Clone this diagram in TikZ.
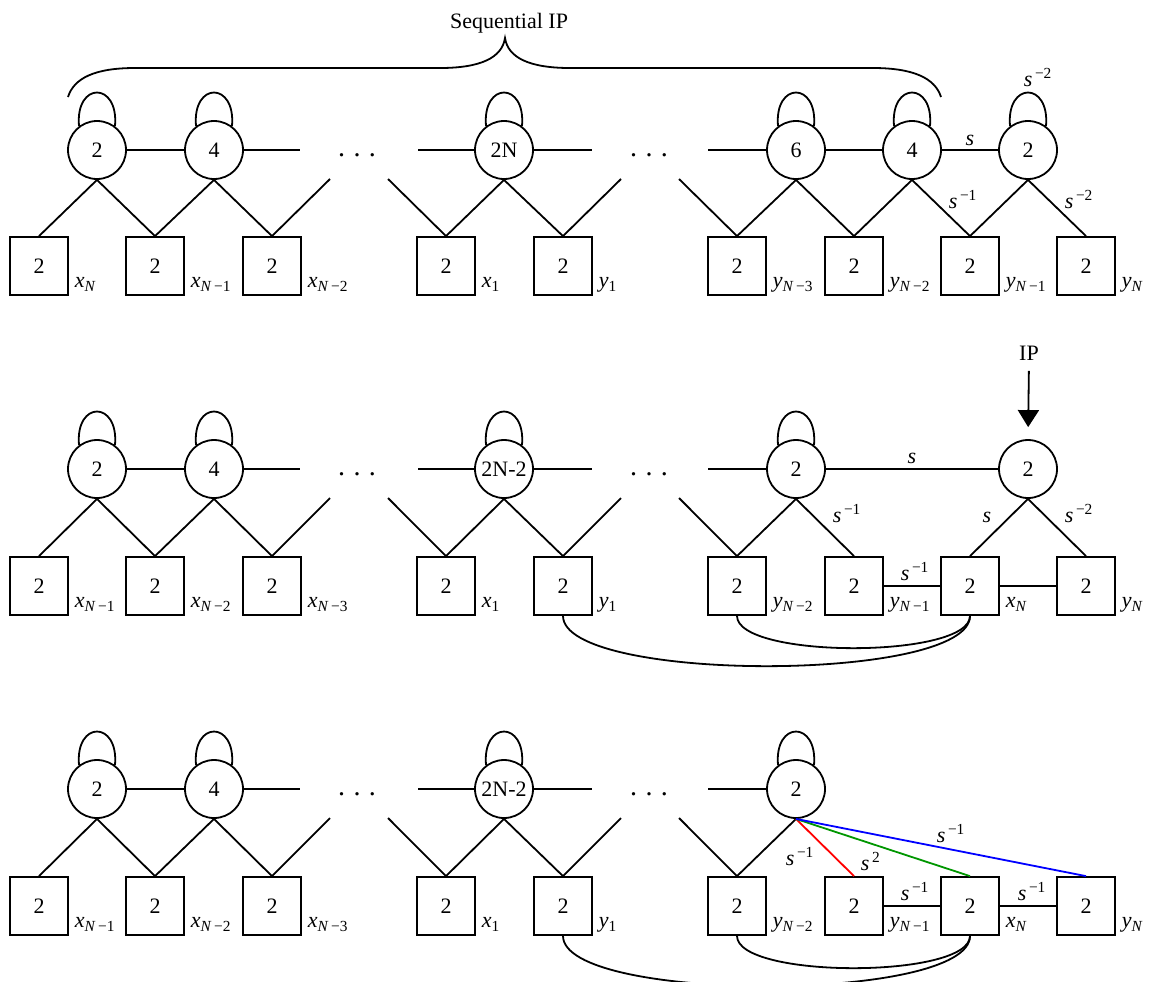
\documentclass[tikz,border=0pt]{standalone}
\usepackage{fontspec}
\setmainfont{Liberation Serif}
\usetikzlibrary{arrows.meta}
\definecolor{eRed}{RGB}{255,0,0}
\definecolor{eGreen}{RGB}{0,150,0}
\definecolor{eBlue}{RGB}{0,0,255}
\newcommand\xv[1]{\textit{x}\textsubscript{#1}}
\newcommand\yv[1]{\textit{y}\textsubscript{#1}}
\newcommand\sv[1]{\textit{s}\textsuperscript{\,#1}}
\newcommand\Nm[1]{\textit{N}\,−#1}
\newcommand\selfloop[1]{\draw (#1.127) .. controls +(95:22.5pt) and +(85:22.5pt) .. (#1.53);}
\begin{document}
\begin{tikzpicture}[x=0.5pt,y=-0.5pt,
  font=\fontsize{11}{13}\selectfont, line width=0.9pt,
  cn/.style={circle,draw,minimum size=29pt,inner sep=0pt},
  bx/.style={rectangle,draw,minimum size=29pt,inner sep=0pt},
  bl/.style={anchor=base west,inner sep=0pt,xshift=2.5pt,yshift=4pt},
  el/.style={anchor=base west,inner sep=0pt},
  ec/.style={anchor=base,inner sep=0pt},
  dts/.style={anchor=base,inner sep=0pt,font=\fontsize{14}{15}\selectfont}]
\useasboundingbox (0,0) rectangle (1149,981);

% ---------- common left part of the three rows ----------
\foreach \r/\cy/\by/\lc/\ld in {1/150/266/2N/6, 2/469/586/2N-2/2, 3/789/906/2N-2/2}{
  \node[cn] (r\r-c1) at (97,\cy) {2};
  \node[cn] (r\r-c2) at (214,\cy) {4};
  \node[cn] (r\r-c3) at (504,\cy) {\lc};
  \node[cn] (r\r-c4) at (796,\cy) {\ld};
  \foreach \x [count=\i] in {39,155,272,446,563,737,854,970,1086}{
    \node[bx] (r\r-b\i) at (\x,\by) {2};
  }
  \coordinate (r\r-s1) at (300,\cy);
  \coordinate (r\r-s2) at (418,\cy);
  \coordinate (r\r-s3) at (592,\cy);
  \coordinate (r\r-s4) at (708,\cy);
  \coordinate (r\r-d1) at (330,\cy+29);
  \coordinate (r\r-d2) at (388,\cy+29);
  \coordinate (r\r-d3) at (621,\cy+29);
  \coordinate (r\r-d4) at (679,\cy+29);
  \node[dts] (r\r-dotsA) at (357,\cy+6) {.\hspace{0.3em}.\hspace{0.3em}.};
  \node[dts] (r\r-dotsB) at (649,\cy+6) {.\hspace{0.3em}.\hspace{0.3em}.};
  \draw (r\r-c1) -- (r\r-c2);
  \draw (r\r-c2.east) -- (r\r-s1);
  \draw (r\r-s2) -- (r\r-c3.west);
  \draw (r\r-c3.east) -- (r\r-s3);
  \draw (r\r-s4) -- (r\r-c4.west);
  \draw (r\r-c1.south) -- (r\r-b1.north);
  \draw (r\r-c1.south) -- (r\r-b2.north);
  \draw (r\r-c2.south) -- (r\r-b2.north);
  \draw (r\r-c2.south) -- (r\r-b3.north);
  \draw (r\r-b3.north) -- (r\r-d1);
  \draw (r\r-d2) -- (r\r-b4.north);
  \draw (r\r-c3.south) -- (r\r-b4.north);
  \draw (r\r-c3.south) -- (r\r-b5.north);
  \draw (r\r-b5.north) -- (r\r-d3);
  \draw (r\r-d4) -- (r\r-b6.north);
  \draw (r\r-c4.south) -- (r\r-b6.north);
  \selfloop{r\r-c1}
  \selfloop{r\r-c2}
  \selfloop{r\r-c3}
  \selfloop{r\r-c4}
}

% ---------- row 1 ----------
\node[cn] (r1-c5) at (912,150) {4};
\node[cn] (r1-c6) at (1028,150) {2};
\selfloop{r1-c5}
\selfloop{r1-c6}
\draw (r1-c4) -- (r1-c5);
\draw (r1-c5) -- (r1-c6);
\draw (r1-c4.south) -- (r1-b7.north);
\draw (r1-c5.south) -- (r1-b7.north);
\draw (r1-c5.south) -- (r1-b8.north);
\draw (r1-c6.south) -- (r1-b8.north);
\draw (r1-c6.south) -- (r1-b9.north);
\node[ec] (r1-ls) at (970,145) {\textit{s}};
\node[el] (r1-l58) at (948,208) {\sv{−1}};
\node[el] (r1-l69) at (1064,208) {\sv{−2}};
\node[el] (r1-lloop) at (1023,86) {\sv{−2}};
\node[bl] (r1-t1) at (r1-b1.south east) {\xv{\textit{N}}};
\node[bl] (r1-t2) at (r1-b2.south east) {\xv{\Nm{1}}};
\node[bl] (r1-t3) at (r1-b3.south east) {\xv{\Nm{2}}};
\node[bl] (r1-t4) at (r1-b4.south east) {\xv{1}};
\node[bl] (r1-t5) at (r1-b5.south east) {\yv{1}};
\node[bl] (r1-t6) at (r1-b6.south east) {\yv{\Nm{3}}};
\node[bl] (r1-t7) at (r1-b7.south east) {\yv{\Nm{2}}};
\node[bl] (r1-t8) at (r1-b8.south east) {\yv{\Nm{1}}};
\node[bl] (r1-t9) at (r1-b9.south east) {\yv{\textit{N}}};

% brace
\node[anchor=base,inner sep=0pt] (seqip) at (509,28) {Sequential IP};
\draw (68,97) .. controls (74,78) and (95,68) .. (135,68) -- (440,68)
      .. controls (480,68) and (502,58) .. (505,38)
      .. controls (508,58) and (530,68) .. (570,68) -- (873,68)
      .. controls (913,68) and (935,78) .. (941,97);

% ---------- row 2 ----------
\node[cn] (r2-c6) at (1028,469) {2};
\draw (r2-c4) -- (r2-c6);
\draw (r2-c4.south) -- (r2-b7.north);
\draw (r2-c6.south) -- (r2-b8.north);
\draw (r2-c6.south) -- (r2-b9.north);
\draw (r2-b7) -- (r2-b8);
\draw (r2-b8) -- (r2-b9);
\draw (r2-b6.south) .. controls +(0,43) and +(0,43) .. (r2-b8.south);
\draw (r2-b5.south) .. controls +(0,67) and +(0,67) .. (r2-b8.south);
\node[ec] (r2-ls) at (912,463) {\textit{s}};
\node[el] (r2-l47) at (832,522) {\sv{−1}};
\node[anchor=base east,inner sep=0pt] (r2-l68) at (992,522) {\textit{s}};
\node[el] (r2-l69) at (1064,522) {\sv{−2}};
\node[el] (r2-l78) at (900,580) {\sv{−1}};
\node[anchor=base,inner sep=0pt] (ip) at (1029,360) {IP};
\draw[-{Triangle[width=10.5pt,length=8.5pt]},shorten <=5pt,shorten >=6pt] (ip.south) -- (r2-c6.north);
\node[bl] (r2-t1) at (r2-b1.south east) {\xv{\Nm{1}}};
\node[bl] (r2-t2) at (r2-b2.south east) {\xv{\Nm{2}}};
\node[bl] (r2-t3) at (r2-b3.south east) {\xv{\Nm{3}}};
\node[bl] (r2-t4) at (r2-b4.south east) {\xv{1}};
\node[bl] (r2-t5) at (r2-b5.south east) {\yv{1}};
\node[bl] (r2-t6) at (r2-b6.south east) {\yv{\Nm{2}}};
\node[bl] (r2-t7) at (r2-b7.south east) {\yv{\Nm{1}}};
\node[bl] (r2-t8) at (r2-b8.south east) {\xv{\textit{N}}};
\node[bl] (r2-t9) at (r2-b9.south east) {\yv{\textit{N}}};

% ---------- row 3 ----------
\draw[eRed] (r3-c4.south) -- (r3-b7.north);
\draw[eGreen] (r3-c4.south) -- (r3-b8.north);
\draw[eBlue] (r3-c4.south) -- (r3-b9.north);
\draw (r3-b7) -- (r3-b8);
\draw (r3-b8) -- (r3-b9);
\draw (r3-b6.south) .. controls +(0,43) and +(0,43) .. (r3-b8.south);
\draw (r3-b5.south) .. controls +(0,67) and +(0,67) .. (r3-b8.south);
\node[el] (r3-lB) at (936,842) {\sv{−1}};
\node[el] (r3-lR) at (785,865) {\sv{−1}};
\node[el] (r3-lG) at (860,870) {\sv{2}};
\node[el] (r3-l78) at (900,900) {\sv{−1}};
\node[el] (r3-l89) at (1017,900) {\sv{−1}};
\node[bl] (r3-t1) at (r3-b1.south east) {\xv{\Nm{1}}};
\node[bl] (r3-t2) at (r3-b2.south east) {\xv{\Nm{2}}};
\node[bl] (r3-t3) at (r3-b3.south east) {\xv{\Nm{3}}};
\node[bl] (r3-t4) at (r3-b4.south east) {\xv{1}};
\node[bl] (r3-t5) at (r3-b5.south east) {\yv{1}};
\node[bl] (r3-t6) at (r3-b6.south east) {\yv{\Nm{2}}};
\node[bl] (r3-t7) at (r3-b7.south east) {\yv{\Nm{1}}};
\node[bl] (r3-t8) at (r3-b8.south east) {\xv{\textit{N}}};
\node[bl] (r3-t9) at (r3-b9.south east) {\yv{\textit{N}}};
\end{tikzpicture}
\end{document}
